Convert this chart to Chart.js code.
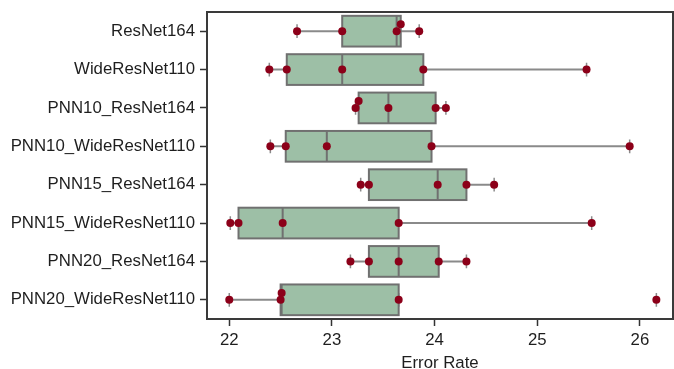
<!DOCTYPE html>
<html>
<head>
<meta charset="utf-8">
<script src="https://cdn.jsdelivr.net/npm/chart.js@4/dist/chart.umd.min.js"></script>
<style>
  html, body { margin: 0; padding: 0; background: #ffffff; }
  #wrap { width: 674px; height: 369px; }
</style>
</head>
<body>
<div id="wrap"><canvas id="c" width="674" height="369"></canvas></div>
<script>
// Model names, top to bottom
const categories = [
  'ResNet164',
  'WideResNet110',
  'PNN10_ResNet164',
  'PNN10_WideResNet110',
  'PNN15_ResNet164',
  'PNN15_WideResNet110',
  'PNN20_ResNet164',
  'PNN20_WideResNet110'
];

// Error rate of each of the five runs per model
const runsResNet164          = [22.66, 23.10, 23.63, 23.67, 23.85];
const runsWideResNet110      = [22.39, 22.56, 23.10, 23.89, 25.48];
const runsPNN10ResNet164     = [23.23, 23.26, 23.55, 24.01, 24.11];
const runsPNN10WideResNet110 = [22.40, 22.55, 22.95, 23.97, 25.90];
const runsPNN15ResNet164     = [23.28, 23.36, 24.03, 24.31, 24.58];
const runsPNN15WideResNet110 = [22.01, 22.09, 22.52, 23.65, 25.53];
const runsPNN20ResNet164     = [23.18, 23.36, 23.65, 24.04, 24.31];
const runsPNN20WideResNet110 = [22.00, 22.50, 22.51, 23.65, 26.16];

// Axis tick values
const xTicks = [22, 23, 24, 25, 26];

const runs = [
  runsResNet164, runsWideResNet110, runsPNN10ResNet164, runsPNN10WideResNet110,
  runsPNN15ResNet164, runsPNN15WideResNet110, runsPNN20ResNet164, runsPNN20WideResNet110
];

const FONT = "'Liberation Sans', Arial, Helvetica, sans-serif";
const FONT_SIZE = 16.8;
const BOX_FILL = '#9dbfa6';
const BOX_EDGE = '#707070';
const WHISKER = '#8a8a8a';
const POINT = '#8c0019';
const BOX_HALF = 0.4;     // half box height, in row units
const CAP_HALF = 0.18;    // half whisker-cap length, in row units
const STACK_STEP = 0.18;  // lift for runs that would overlap on the row
const STACK_GAP = 0.06;   // values closer than this are lifted

function quantile(sorted, p) {
  const pos = (sorted.length - 1) * p;
  const lo = Math.floor(pos), hi = Math.ceil(pos);
  return sorted[lo] + (sorted[hi] - sorted[lo]) * (pos - lo);
}

const stats = runs.map(vals => {
  const s = vals.slice().sort((a, b) => a - b);
  const q1 = quantile(s, 0.25), med = quantile(s, 0.5), q3 = quantile(s, 0.75);
  const iqr = q3 - q1;
  const inside = s.filter(v => v >= q1 - 1.5 * iqr && v <= q3 + 1.5 * iqr);
  const lo = inside[0], hi = inside[inside.length - 1];
  const outliers = s.filter(v => v < lo || v > hi);
  return { q1, med, q3, lo, hi, outliers };
});

// Run markers, lifting any that would sit on top of the previous one
const pointData = [];
runs.forEach((vals, i) => {
  const s = vals.slice().sort((a, b) => a - b);
  let prev = null;
  s.forEach(v => {
    let lift = 0;
    if (prev !== null && v - prev < STACK_GAP) {
      lift = STACK_STEP;
    } else {
      prev = v;
    }
    pointData.push({ x: v, y: i - lift });
  });
});

const boxPlugin = {
  id: 'boxes',
  beforeDatasetsDraw(chart) {
    const { ctx, chartArea, scales: { x, y } } = chart;
    ctx.save();
    stats.forEach((s, i) => {
      const yc = y.getPixelForValue(i);
      const y1 = y.getPixelForValue(i - BOX_HALF);
      const y2 = y.getPixelForValue(i + BOX_HALF);
      const top = Math.min(y1, y2), h = Math.abs(y2 - y1);
      const c1 = y.getPixelForValue(i - CAP_HALF);
      const c2 = y.getPixelForValue(i + CAP_HALF);

      // whiskers
      ctx.strokeStyle = WHISKER;
      ctx.lineWidth = 2;
      ctx.beginPath();
      ctx.moveTo(x.getPixelForValue(s.lo), yc);
      ctx.lineTo(x.getPixelForValue(s.q1), yc);
      ctx.moveTo(x.getPixelForValue(s.q3), yc);
      ctx.lineTo(x.getPixelForValue(s.hi), yc);
      ctx.stroke();

      // caps at whisker ends and outliers
      ctx.lineWidth = 1.5;
      ctx.beginPath();
      [s.lo, s.hi, ...s.outliers].forEach(v => {
        const px = x.getPixelForValue(v);
        ctx.moveTo(px, c1);
        ctx.lineTo(px, c2);
      });
      ctx.stroke();

      // box
      const bx1 = x.getPixelForValue(s.q1), bx2 = x.getPixelForValue(s.q3);
      ctx.fillStyle = BOX_FILL;
      ctx.fillRect(bx1, top, bx2 - bx1, h);
      ctx.strokeStyle = BOX_EDGE;
      ctx.lineWidth = 2;
      ctx.strokeRect(bx1, top, bx2 - bx1, h);

      // median
      const mx = x.getPixelForValue(s.med);
      ctx.beginPath();
      ctx.moveTo(mx, top);
      ctx.lineTo(mx, top + h);
      ctx.stroke();
    });

    // plot frame
    ctx.strokeStyle = '#3a3a3a';
    ctx.lineWidth = 2;
    ctx.strokeRect(chartArea.left, chartArea.top,
                   chartArea.right - chartArea.left, chartArea.bottom - chartArea.top);
    ctx.restore();
  }
};

new Chart(document.getElementById('c'), {
  type: 'scatter',
  data: {
    datasets: [{
      data: pointData,
      pointRadius: 4,
      pointHoverRadius: 4,
      pointBackgroundColor: POINT,
      pointBorderWidth: 0,
      showLine: false,
      clip: false
    }]
  },
  options: {
    responsive: false,
    devicePixelRatio: 1,
    animation: false,
    events: [],
    layout: { autoPadding: false, padding: { top: 12, right: 1, left: 0, bottom: 0 } },
    plugins: { legend: { display: false }, tooltip: { enabled: false } },
    scales: {
      x: {
        type: 'linear',
        position: 'bottom',
        min: 21.783,
        max: 26.322,
        afterBuildTicks: s => { s.ticks = xTicks.map(v => ({ value: v })); },
        afterFit: s => { s.height = 50; s.paddingLeft = 0; s.paddingRight = 0; },
        grid: { drawOnChartArea: false, drawTicks: true, tickLength: 7, tickColor: '#333', tickWidth: 1.5 },
        border: { display: true, color: '#333', width: 2 },
        ticks: { font: { family: FONT, size: FONT_SIZE }, color: '#1e1e1e', padding: 4 },
        title: {
          display: true, text: 'Error Rate', color: '#1e1e1e',
          font: { family: FONT, size: FONT_SIZE },
          padding: { top: 0, bottom: -4 }
        }
      },
      y: {
        type: 'linear',
        reverse: true,
        min: -0.5,
        max: 7.5,
        afterBuildTicks: s => { s.ticks = categories.map((c, i) => ({ value: i })); },
        afterFit: s => { s.width = 207; s.paddingTop = 0; s.paddingBottom = 0; },
        grid: { drawOnChartArea: false, drawTicks: true, tickLength: 7, tickColor: '#333', tickWidth: 1.5 },
        border: { display: true, color: '#333', width: 2 },
        ticks: {
          font: { family: FONT, size: FONT_SIZE }, color: '#1e1e1e', padding: 5,
          callback: v => categories[v]
        }
      }
    }
  },
  plugins: [boxPlugin]
});
</script>
</body>
</html>
